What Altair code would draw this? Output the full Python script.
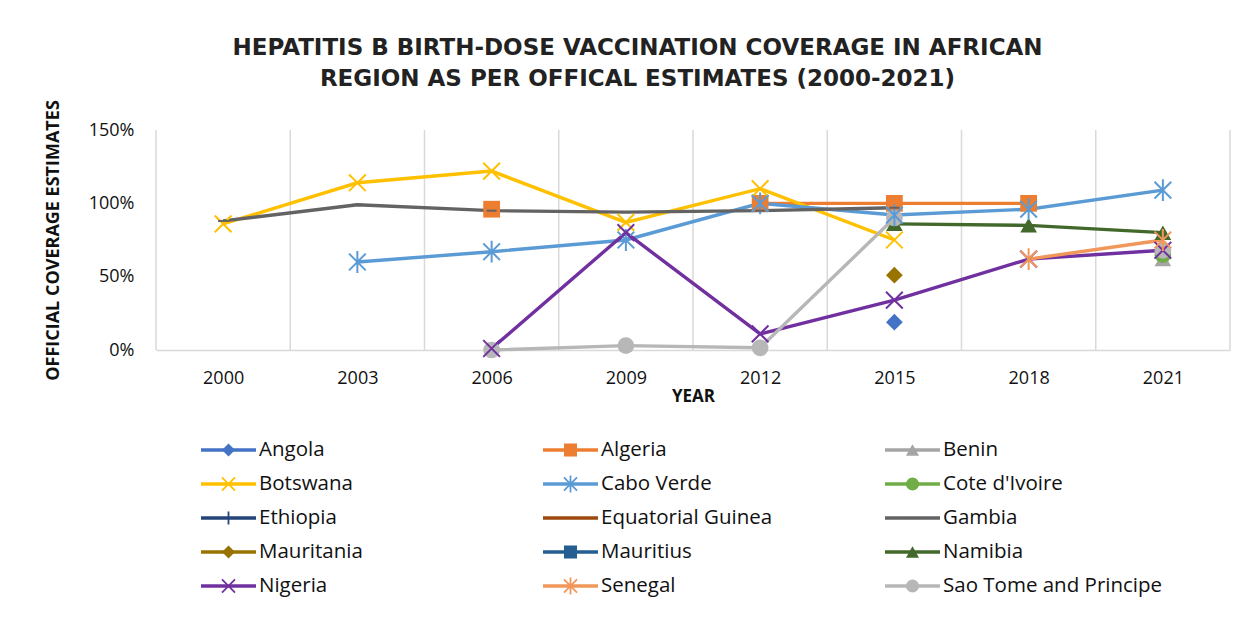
import altair as alt
import pandas as pd

years = [2000, 2003, 2006, 2009, 2012, 2015, 2018, 2021]

countries = ["Angola", "Algeria", "Benin", "Botswana", "Cabo Verde", "Cote d'Ivoire",
             "Ethiopia", "Equatorial Guinea", "Gambia", "Mauritania", "Mauritius",
             "Namibia", "Nigeria", "Senegal", "Sao Tome and Principe"]

colors = ["#4472C4", "#ED7D31", "#A5A5A5", "#FFC000", "#5B9BD5", "#70AD47",
          "#264478", "#9E480E", "#636363", "#997300", "#255E91",
          "#43682B", "#7030A0", "#F1975A", "#B7B7B7"]

markers = ["diamond", "square", "triangle", "x", "asterisk", "circle",
           "plus", "dash", "dash", "diamond", "square",
           "triangle", "x", "asterisk", "circle"]

# coverage (%) per country, one value per year (None = not reported)
angola     = [None, None, None, None, None, 19, None, None]
algeria    = [None, None, 96, None, 100, 100, 100, None]
benin      = [None, None, None, None, None, None, None, 62]
botswana   = [86, 114, 122, 87, 110, 75, None, None]
cabo_verde = [None, 60, 67, 75, 100, 92, 96, 109]
cote       = [None, None, None, None, None, None, None, 65]
ethiopia   = [None, None, None, None, None, None, None, None]
eq_guinea  = [None, None, None, None, None, None, None, None]
gambia     = [88, 99, 95, 94, 95, 97, None, None]
mauritania = [None, None, None, None, None, 51, None, None]
mauritius  = [None, None, None, None, None, None, None, None]
namibia    = [None, None, None, None, None, 86, 85, 80]
nigeria    = [None, None, 1, 80, 11, 34, 62, 68]
senegal    = [None, None, None, None, None, None, 62, 75]
sao_tome   = [None, None, 0, 3, 1.5, 90, None, 68]

series = [angola, algeria, benin, botswana, cabo_verde, cote, ethiopia, eq_guinea,
          gambia, mauritania, mauritius, namibia, nigeria, senegal, sao_tome]

title_lines = ["HEPATITIS B BIRTH-DOSE VACCINATION COVERAGE IN AFRICAN",
               "REGION AS PER OFFICAL ESTIMATES (2000-2021)"]

# ---------------------------------------------------------------- shapes
X_PATH = "M-1,-1L1,1M-1,1L1,-1"
AST_PATH = "M-1,-1L1,1M-1,1L1,-1M0,-1.3L0,1.3"
PLUS_PATH = "M0,-1L0,1M-1,0L1,0"
DASH_PATH = "M-0.6,0L0.6,0"
shape_of = {"diamond": "diamond", "square": "square", "triangle": "triangle-up",
            "circle": "circle", "x": X_PATH, "asterisk": AST_PATH,
            "plus": PLUS_PATH, "dash": DASH_PATH}
filled_kinds = {"diamond", "square", "triangle", "circle"}
shape_range = [shape_of[m] for m in markers]

# ---------------------------------------------------------------- table
rows = []
for c, vals, m in zip(countries, series, markers):
    seg = 0
    prev = False
    for yr, v in zip(years, vals):
        if v is None:
            if prev:
                seg += 1
            prev = False
            continue
        prev = True
        rows.append({"country": c, "year": yr, "value": v, "seg": f"{c}-{seg}",
                     "filled": m in filled_kinds})
df = pd.DataFrame(rows)

bounds = [y - 1.5 for y in years] + [years[-1] + 1.5]
grid_df = pd.DataFrame({"b": bounds})

color_scale = alt.Scale(domain=countries, range=colors)
shape_scale = alt.Scale(domain=countries, range=shape_range)

FONT = "Open Sans"
W, H = 1074, 220

xs = alt.Scale(domain=[bounds[0], bounds[-1]], nice=False, zero=False)
ys = alt.Scale(domain=[0, 150], nice=False)

x_axis = alt.Axis(values=years, format="d", grid=False, ticks=False,
                  domainColor="#D9D9D9", domainWidth=1.5,
                  labelFont=FONT, labelFontSize=18, labelColor="#111",
                  labelPadding=19, title="YEAR", titleFont=FONT,
                  titleFontSize=17, titleFontWeight="bold",
                  titleColor="#111", titlePadding=1)
y_enc = alt.Y("value:Q", scale=ys,
              axis=alt.Axis(values=[0, 50, 100, 150], labelExpr="datum.value + '%'",
                            grid=False, ticks=False, domain=False,
                            labelFont=FONT, labelFontSize=18, labelColor="#111",
                            labelPadding=22, title="OFFICIAL COVERAGE ESTIMATES",
                            titleFont=FONT, titleFontSize=18, titleFontWeight="bold",
                            titleColor="#111", titlePadding=26))

grid = alt.Chart(grid_df).mark_rule(color="#D9D9D9", strokeWidth=1.5).encode(
    x=alt.X("b:Q", scale=xs, axis=x_axis))

base = alt.Chart(df)
lines = base.mark_line(strokeWidth=3.4).encode(
    x=alt.X("year:Q", scale=xs, axis=x_axis), y=y_enc,
    color=alt.Color("country:N", scale=color_scale, legend=None),
    detail="seg:N", order="year:Q")

pts_f = base.transform_filter("datum.filled").mark_point(
    filled=True, size=280, opacity=1).encode(
    x="year:Q", y="value:Q",
    color=alt.Color("country:N", scale=color_scale, legend=None),
    shape=alt.Shape("country:N", scale=shape_scale, legend=None))

pts_s = base.transform_filter("!datum.filled").mark_point(
    filled=False, size=280, opacity=1, strokeWidth=2).encode(
    x="year:Q", y="value:Q",
    color=alt.Color("country:N", scale=color_scale, legend=None),
    shape=alt.Shape("country:N", scale=shape_scale, legend=None))

main = alt.layer(grid, lines, pts_f, pts_s).properties(width=W, height=H)

# ---------------------------------------------------------------- legend
leg_df = pd.DataFrame({"country": countries, "idx": list(range(len(countries))),
                       "filled": [m in filled_kinds for m in markers]})
COLW = 342.0
LEFT = 45.0
lxs = alt.Scale(domain=[-LEFT / COLW, (W - LEFT) / COLW], nice=False, zero=False)
lys = alt.Scale(domain=[-0.5, 4.5], nice=False, zero=False, reverse=True)

leg_base = alt.Chart(leg_df).transform_calculate(
    col="datum.idx % 3", row="floor(datum.idx / 3)",
    x1="datum.idx % 3", x2=f"datum.idx % 3 + {55 / COLW}",
    mx=f"datum.idx % 3 + {27.5 / COLW}", tx=f"datum.idx % 3 + {58 / COLW}")

leg_line = leg_base.mark_rule(strokeWidth=3.5).encode(
    x=alt.X("x1:Q", scale=lxs, axis=None), x2="x2:Q",
    y=alt.Y("row:Q", scale=lys, axis=None),
    color=alt.Color("country:N", scale=color_scale, legend=None))
leg_pf = leg_base.transform_filter("datum.filled").mark_point(
    filled=True, size=170, opacity=1).encode(
    x=alt.X("mx:Q", scale=lxs, axis=None), y=alt.Y("row:Q", scale=lys, axis=None),
    color=alt.Color("country:N", scale=color_scale, legend=None),
    shape=alt.Shape("country:N", scale=shape_scale, legend=None))
leg_ps = leg_base.transform_filter("!datum.filled").mark_point(
    filled=False, size=170, opacity=1, strokeWidth=1.8).encode(
    x=alt.X("mx:Q", scale=lxs, axis=None), y=alt.Y("row:Q", scale=lys, axis=None),
    color=alt.Color("country:N", scale=color_scale, legend=None),
    shape=alt.Shape("country:N", scale=shape_scale, legend=None))
leg_text = leg_base.mark_text(align="left", baseline="middle", font=FONT,
                              fontSize=20.5, color="#111").encode(
    x=alt.X("tx:Q", scale=lxs, axis=None), y=alt.Y("row:Q", scale=lys, axis=None),
    text="country:N")

legend = alt.layer(leg_line, leg_pf, leg_ps, leg_text).properties(width=W, height=170)

chart = alt.vconcat(main, legend, spacing=27).properties(
    title=alt.TitleParams(text=title_lines, font="DejaVu Sans", fontSize=23,
                          fontWeight="bold", color="#222", anchor="middle",
                          lineHeight=31, offset=8)
).resolve_scale(color="shared", shape="shared").configure(
    background="white", padding={"left": 35, "top": 29, "right": 5, "bottom": 5},
    view=alt.ViewConfig(stroke="transparent"))

chart.save("out.html", embed_options={"renderer": "svg", "actions": False})
